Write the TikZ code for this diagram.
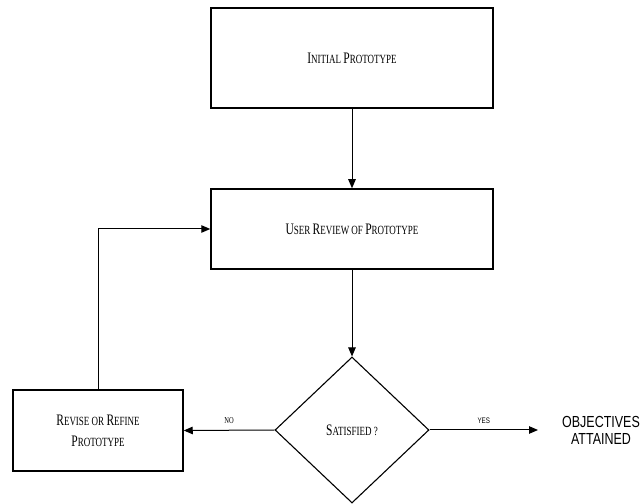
\documentclass[tikz,border=0pt]{standalone}
\usepackage{fontspec}
\newfontfamily\labelsans{Liberation Sans}[FakeStretch=0.78]
\newfontfamily\boxserif{Liberation Serif}[FakeStretch=0.72]
\usetikzlibrary{arrows.meta,shapes.geometric}
% hand-set small capitals: a large initial followed by smaller capitals
\newcommand{\initcap}[1]{{\fontsize{16}{18}\selectfont #1}}
\newcommand{\restcap}[1]{{\fontsize{12.5}{18}\selectfont #1}}
\begin{document}
\begin{tikzpicture}[x=1pt,y=1pt,
  procbox/.style={draw,line width=1.5pt,rectangle,inner sep=0pt,
    font=\boxserif\fontsize{12.5}{21}\selectfont,align=center},
  flow/.style={line width=1pt,-{Triangle[length=9pt,width=7.5pt]}},
  tag/.style={font=\boxserif\fontsize{9}{10}\selectfont}]
\useasboundingbox (0,0) rectangle (641,504);
% process boxes
\node[procbox,minimum width=282,minimum height=100] (init) at (352,446)
  {\initcap{I}\restcap{NITIAL} \initcap{P}\restcap{ROTOTYPE}};
\node[procbox,minimum width=282,minimum height=80] (review) at (352,275)
  {\initcap{U}\restcap{SER} \initcap{R}\restcap{EVIEW OF} \initcap{P}\restcap{ROTOTYPE}};
\node[procbox,minimum width=170,minimum height=81] (revise) at (98,73.5)
  {\initcap{R}\restcap{EVISE OR} \initcap{R}\restcap{EFINE}\\\initcap{P}\restcap{ROTOTYPE}};
% decision
\node[draw,line width=1.1pt,diamond,minimum width=154,minimum height=146,inner sep=0pt,
  font=\boxserif] (sat) at (352,74) {\initcap{S}\restcap{ATISFIED ?}};
% outcome
\node[font=\labelsans\fontsize{16}{17}\selectfont,align=center] (goal) at (601,74) {OBJECTIVES\\ATTAINED};
\coordinate (yesend) at (538,74);
% connectors
\draw[flow] (init.south) -- (review.north);
\draw[flow] (review.south) -- (sat.north);
\draw[flow] (sat.west) -- node[tag,above=3pt] {NO} (revise.east);
\draw[flow] (sat.east) -- node[tag,above=3pt,font=\labelsans\fontsize{8}{9}\selectfont] {YES} (yesend);
\draw[flow] (revise.north) |- (review.west);
\end{tikzpicture}
\end{document}
